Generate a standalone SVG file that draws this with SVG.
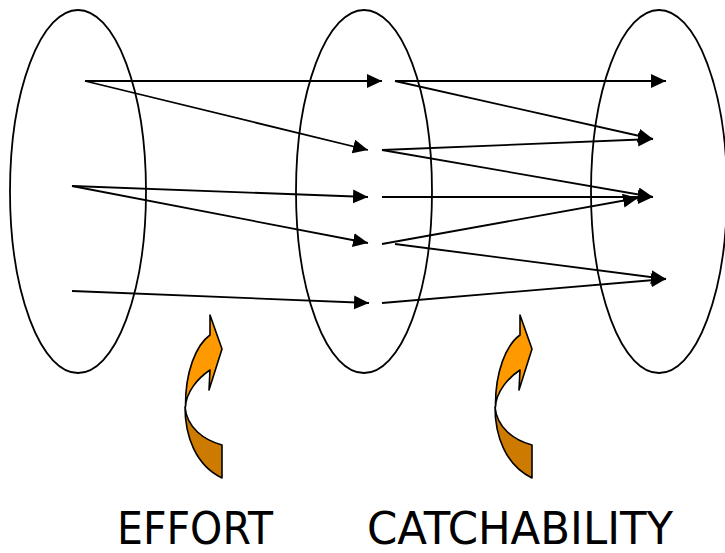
<svg xmlns="http://www.w3.org/2000/svg" width="725" height="553" viewBox="0 0 725 553">
<style>
.ell{fill:none;stroke:#000;stroke-width:1.8}
.con line{stroke:#000;stroke-width:1.8;marker-end:url(#ah)}
.lt{fill:#FF9900;stroke:#000;stroke-width:1.6;stroke-linejoin:round}
.dk{fill:#CC7A00;stroke:#000;stroke-width:1.6;stroke-linejoin:round}
.lbl{font-family:"DejaVu Sans","Liberation Sans",sans-serif;font-size:44px;fill:#000}
</style>
<defs>
<marker id="ah" markerUnits="userSpaceOnUse" markerWidth="16" markerHeight="15" refX="15" refY="7" orient="auto">
<path d="M0,0 L15,7 L0,14 Z" fill="#000"/>
</marker>
<g id="curved">
<path class="dk" d="M185,407 C185,435 195,465 222,478 L222,445 C204,440 187,428 185,407 Z"/>
<path class="lt" d="M210,335 L210,315 L222,349 L209,390 L210,370 C198,378 186,392 185.5,407 C185,372 196,345 210,335 Z"/>
</g>
</defs>
<g id="set1"><ellipse class="ell" cx="78" cy="191.5" rx="68" ry="181.5"/></g>
<g id="set2"><ellipse class="ell" cx="364" cy="191.5" rx="68" ry="181.5"/></g>
<g id="set3"><ellipse class="ell" cx="659" cy="191.5" rx="68" ry="181.5"/></g>
<g id="connectors" class="con">
<line x1="85" y1="81" x2="382" y2="81"/>
<line x1="85" y1="81" x2="368" y2="150"/>
<line x1="72" y1="186" x2="368" y2="197"/>
<line x1="72" y1="186" x2="368" y2="243"/>
<line x1="72" y1="291" x2="369" y2="303"/>
<line x1="395" y1="81" x2="666" y2="81"/>
<line x1="395" y1="81" x2="653" y2="139"/>
<line x1="382" y1="150" x2="653" y2="139"/>
<line x1="382" y1="150" x2="653" y2="197"/>
<line x1="382" y1="197" x2="653" y2="197"/>
<line x1="382" y1="244" x2="638" y2="198"/>
<line x1="395" y1="244" x2="666" y2="279"/>
<line x1="382" y1="303" x2="666" y2="279"/>
</g>
<g id="effort-arrow"><use href="#curved"/></g>
<g id="catchability-arrow"><use href="#curved" transform="translate(310,0)"/></g>
<g id="effort-label"><text class="lbl" x="117" y="544" textLength="156" lengthAdjust="spacingAndGlyphs">EFFORT</text></g>
<g id="catchability-label"><text class="lbl" x="367" y="544" textLength="306" lengthAdjust="spacingAndGlyphs">CATCHABILITY</text></g>
</svg>
